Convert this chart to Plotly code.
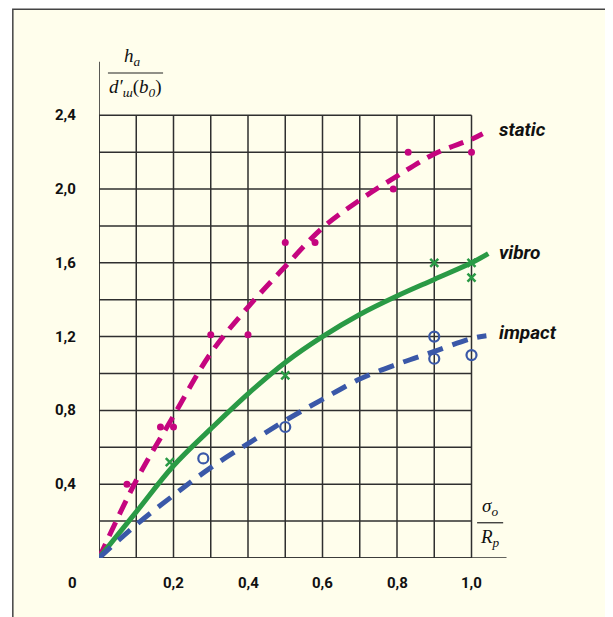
import plotly.graph_objects as go

# ---------------- data ----------------
curve_x_static = [0, 0.1, 0.2, 0.3, 0.4, 0.5, 0.6, 0.7, 0.8, 0.9, 1.0, 1.03]
curve_y_static = [0, 0.42, 0.77, 1.11, 1.36, 1.58, 1.79, 1.94, 2.07, 2.19, 2.27, 2.30]

curve_x_vibro = [0, 0.1, 0.2, 0.3, 0.4, 0.5, 0.6, 0.7, 0.8, 0.9, 1.0, 1.045]
curve_y_vibro = [0, 0.25, 0.50, 0.70, 0.89, 1.06, 1.20, 1.32, 1.42, 1.51, 1.60, 1.65]

curve_x_impact = [0, 0.1, 0.2, 0.3, 0.4, 0.5, 0.6, 0.7, 0.8, 0.9, 1.0, 1.04]
curve_y_impact = [0, 0.18, 0.34, 0.49, 0.62, 0.745, 0.86, 0.97, 1.05, 1.12, 1.19, 1.205]

pts_x_static = [0.075, 0.165, 0.2, 0.3, 0.4, 0.5, 0.58, 0.79, 0.83, 1.0]
pts_y_static = [0.40, 0.71, 0.71, 1.21, 1.21, 1.71, 1.71, 2.00, 2.20, 2.20]

pts_x_vibro = [0.19, 0.5, 0.9, 1.0, 1.0]
pts_y_vibro = [0.52, 0.99, 1.60, 1.60, 1.52]

pts_x_impact = [0.28, 0.5, 0.9, 0.9, 1.0]
pts_y_impact = [0.54, 0.71, 1.20, 1.08, 1.10]

x_grid = [0, 0.1, 0.2, 0.3, 0.4, 0.5, 0.6, 0.7, 0.8, 0.9, 1.0]
y_grid = [0, 0.2, 0.4, 0.6, 0.8, 1.0, 1.2, 1.4, 1.6, 1.8, 2.0, 2.2, 2.4]
x_tick_vals = [0.2, 0.4, 0.6, 0.8, 1.0]
x_tick_text = ["0,2", "0,4", "0,6", "0,8", "1,0"]
y_tick_vals = [0.4, 0.8, 1.2, 1.6, 2.0, 2.4]
y_tick_text = ["0,4", "0,8", "1,2", "1,6", "2,0", "2,4"]

series_names = ["static", "vibro", "impact"]
# --------------------------------------------------------------

MAGENTA = "#C5057F"
GREEN = "#2A9A45"
BLUE = "#3A58A8"
GRID = "#2f2f2f"
CREAM = "#FFFEEC"
TICKFONT = "Roboto, Liberation Sans, sans-serif"
SERIF = "Liberation Serif, DejaVu Serif, serif"

fig = go.Figure()

fig.add_trace(go.Scatter(x=curve_x_static, y=curve_y_static, mode="lines",
                         line=dict(color=MAGENTA, width=5, dash="15px,9px",
                                   shape="spline", smoothing=1.0),
                         hoverinfo="skip"))
fig.add_trace(go.Scatter(x=curve_x_vibro, y=curve_y_vibro, mode="lines",
                         line=dict(color=GREEN, width=5, shape="spline", smoothing=1.0),
                         hoverinfo="skip"))
fig.add_trace(go.Scatter(x=curve_x_impact, y=curve_y_impact, mode="lines",
                         line=dict(color=BLUE, width=5, dash="16px,10px",
                                   shape="spline", smoothing=1.0),
                         hoverinfo="skip"))

fig.add_trace(go.Scatter(x=pts_x_static, y=pts_y_static, mode="markers",
                         marker=dict(symbol="circle", size=7, color=MAGENTA)))
fig.add_trace(go.Scatter(x=pts_x_vibro, y=pts_y_vibro, mode="markers",
                         marker=dict(symbol="x-thin", size=8, color=GREEN,
                                     line=dict(color=GREEN, width=2.5))))
fig.add_trace(go.Scatter(x=pts_x_impact, y=pts_y_impact, mode="markers",
                         marker=dict(symbol="circle-open", size=10, color=BLUE,
                                     line=dict(color=BLUE, width=2.2))))

shapes = []
# cream framed background
shapes.append(dict(type="rect", xref="paper", yref="paper",
                   x0=-0.1928, x1=1.3, y0=-0.3, y1=1.0258,
                   fillcolor=CREAM, line=dict(color="#444", width=1.5), layer="below"))
# grid
for gx in x_grid:
    shapes.append(dict(type="line", xref="x", yref="y", x0=gx, x1=gx,
                       y0=0, y1=max(y_grid), line=dict(color=GRID, width=1.5), layer="below"))
for gy in y_grid:
    shapes.append(dict(type="line", xref="x", yref="y", x0=0, x1=max(x_grid),
                       y0=gy, y1=gy, line=dict(color=GRID, width=1.5), layer="below"))
# axis lines extended
shapes.append(dict(type="line", xref="x", yref="y", x0=0, x1=1.094, y0=0, y1=0,
                   line=dict(color=GRID, width=1.6), layer="below"))
shapes.append(dict(type="line", xref="x", yref="y", x0=0, x1=0, y0=0, y1=2.69,
                   line=dict(color=GRID, width=1.6), layer="below"))
# fraction bars for axis titles
shapes.append(dict(type="line", xref="x", yref="y", x0=0.024, x1=0.172, y0=2.629, y1=2.629,
                   line=dict(color="#222", width=1.2)))
shapes.append(dict(type="line", xref="x", yref="y", x0=1.015, x1=1.085, y0=0.191, y1=0.191,
                   line=dict(color="#222", width=1.2)))

ann = []
tf = dict(family=TICKFONT, size=15, color="#111", weight="bold")
for v, t in zip(x_tick_vals, x_tick_text):
    ann.append(dict(x=v, y=0, xref="x", yref="y", text=t, showarrow=False, yshift=-25, font=tf))
for v, t in zip(y_tick_vals, y_tick_text):
    ann.append(dict(x=0, y=v, xref="x", yref="y", text=t, showarrow=False, xanchor="right",
                    xshift=-21, font=tf))
ann.append(dict(x=0, y=0, xref="x", yref="y", text="0", showarrow=False, xshift=-27, yshift=-25,
                font=tf))

label_y = [2.325, 1.655, 1.22]
for name, ly in zip(series_names, label_y):
    ann.append(dict(x=1.068, y=ly, xref="x", yref="y", text="<i>" + name + "</i>",
                    showarrow=False, xanchor="left",
                    font=dict(family=TICKFONT, size=19, color="#111", weight="bold")))

ann.append(dict(x=0.09, y=2.715, xref="x", yref="y", text="<i>h</i><sub><i>a</i></sub>",
                showarrow=False, font=dict(family=SERIF, size=19, color="#111")))
ann.append(dict(x=0.098, y=2.547, xref="x", yref="y",
                text="<i>d′</i><sub><i>ш</i></sub>(<i>b</i><sub><i>0</i></sub>)",
                showarrow=False, font=dict(family=SERIF, size=19, color="#111")))
ann.append(dict(x=1.05, y=0.276, xref="x", yref="y", text="<i>σ</i><sub><i>o</i></sub>",
                showarrow=False, font=dict(family=SERIF, size=19, color="#111")))
ann.append(dict(x=1.05, y=0.108, xref="x", yref="y", text="<i>R</i><sub><i>p</i></sub>",
                showarrow=False, font=dict(family=SERIF, size=19, color="#111")))

fig.update_layout(
    width=605, height=609,
    margin=dict(l=91, r=67, t=15, b=59),
    paper_bgcolor="white", plot_bgcolor="rgba(0,0,0,0)",
    showlegend=False,
    shapes=shapes, annotations=ann,
    xaxis=dict(range=[0, 1.2], showgrid=False, zeroline=False, showticklabels=False,
               showline=False, ticks=""),
    yaxis=dict(range=[0, 2.9], showgrid=False, zeroline=False, showticklabels=False,
               showline=False, ticks=""),
)

fig.write_html("out.html")
